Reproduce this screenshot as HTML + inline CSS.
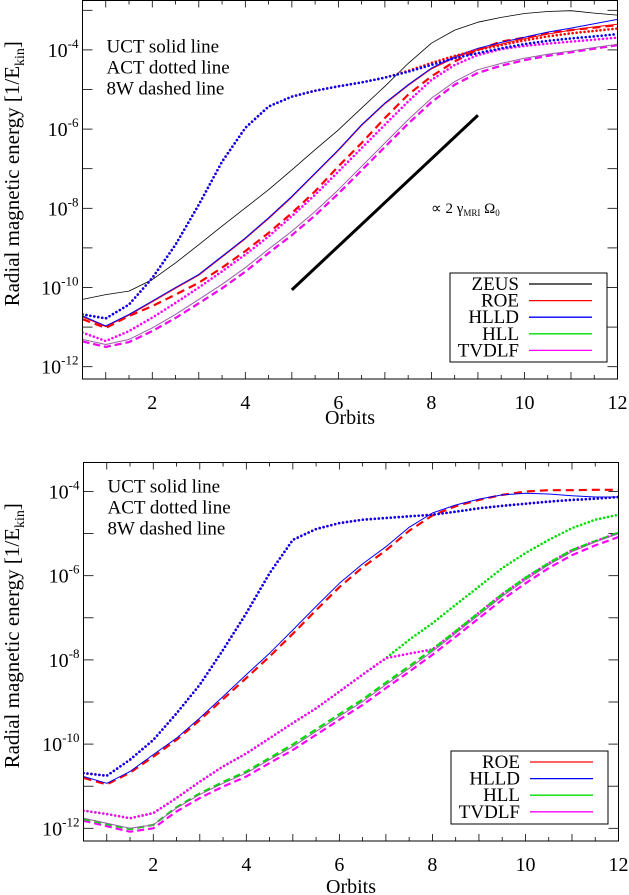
<!DOCTYPE html>
<html><head><meta charset="utf-8">
<style>
html,body{margin:0;padding:0;background:#fff;}
svg{display:block;font-family:"Liberation Serif",serif;}
</style></head>
<body>
<svg id="fig" width="629" height="895" viewBox="0 0 629 895" xmlns="http://www.w3.org/2000/svg"></svg>
<script>
// ---- data (log10 of radial magnetic energy), sampled every 0.5 orbits ----
const orbits = [0.5,1,1.5,2,2.5,3,3.5,4,4.5,5,5.5,6,6.5,7,7.5,8,8.5,9,9.5,10,10.5,11,11.5,12];
const yTickExps = [-12,-10,-8,-6,-4];
const xTickLabels = [2,4,6,8,10,12];

// top panel
const topZeus = [-10.3,-10.18,-10.09,-9.8,-9.38,-8.92,-8.45,-7.99,-7.53,-7.03,-6.52,-6.02,-5.47,-4.92,-4.34,-3.83,-3.5,-3.3,-3.18,-3.08,-3.03,-3.01,-3.07,-3.12];
const topHlldSolid = [-10.72,-10.97,-10.68,-10.34,-10.0,-9.67,-9.21,-8.75,-8.24,-7.7,-7.11,-6.52,-5.89,-5.34,-4.88,-4.46,-4.17,-3.96,-3.81,-3.68,-3.55,-3.45,-3.34,-3.23];
const topRoeSolid = [-10.74,-10.99,-10.7,-10.36,-10.02,-9.69,-9.23,-8.77,-8.26,-7.72,-7.13,-6.54,-5.91,-5.36,-4.9,-4.48,-4.2,-3.99,-3.85,-3.72,-3.6,-3.5,-3.42,-3.35];
const topRoeDashed = [-10.8,-11.02,-10.72,-10.47,-10.18,-9.88,-9.5,-9.08,-8.62,-8.12,-7.57,-6.94,-6.35,-5.72,-5.13,-4.67,-4.29,-4.0,-3.79,-3.69,-3.58,-3.5,-3.44,-3.37];
const topActBlue = [-10.68,-10.78,-10.43,-9.76,-8.92,-7.91,-6.82,-5.97,-5.43,-5.18,-5.03,-4.92,-4.82,-4.7,-4.55,-4.38,-4.21,-4.08,-3.96,-3.85,-3.77,-3.71,-3.66,-3.6];
const topActRed = [-10.68,-10.78,-10.43,-9.76,-8.92,-7.91,-6.82,-5.97,-5.43,-5.18,-5.03,-4.92,-4.82,-4.7,-4.53,-4.33,-4.15,-4.0,-3.88,-3.76,-3.66,-3.58,-3.52,-3.46];
const topActMagenta = [-11.14,-11.35,-11.1,-10.76,-10.39,-10.0,-9.59,-9.17,-8.71,-8.2,-7.66,-7.07,-6.48,-5.89,-5.3,-4.76,-4.38,-4.13,-3.98,-3.9,-3.84,-3.79,-3.74,-3.69];
const topLowSolid = [-11.31,-11.44,-11.31,-11.02,-10.68,-10.3,-9.92,-9.5,-9.03,-8.58,-8.08,-7.53,-6.94,-6.35,-5.76,-5.22,-4.8,-4.5,-4.34,-4.21,-4.11,-4.03,-3.94,-3.86];
const topLowDashed = [-11.36,-11.5,-11.38,-11.1,-10.77,-10.4,-10.02,-9.6,-9.13,-8.68,-8.18,-7.63,-7.04,-6.45,-5.86,-5.32,-4.88,-4.58,-4.4,-4.26,-4.15,-4.06,-3.97,-3.88];
const slopeLineX = [5,9];
const slopeLineY = [-10.06,-5.65];

// bottom panel
const botHlldSolid = [-10.77,-10.93,-10.65,-10.25,-9.86,-9.38,-8.87,-8.35,-7.84,-7.29,-6.73,-6.18,-5.72,-5.31,-4.85,-4.51,-4.32,-4.18,-4.08,-4.04,-4.06,-4.1,-4.13,-4.13];
const botRoeDashed = [-10.8,-10.96,-10.68,-10.3,-9.9,-9.43,-8.93,-8.43,-7.92,-7.38,-6.82,-6.27,-5.8,-5.4,-4.93,-4.57,-4.35,-4.2,-4.08,-4.0,-3.97,-3.97,-3.96,-3.96];
const botActBlue = [-10.69,-10.75,-10.37,-9.9,-9.27,-8.59,-7.76,-6.89,-5.94,-5.15,-4.89,-4.75,-4.67,-4.63,-4.59,-4.55,-4.48,-4.4,-4.34,-4.29,-4.24,-4.2,-4.17,-4.13];
const botActMagenta = [-11.58,-11.66,-11.76,-11.64,-11.28,-10.89,-10.53,-10.22,-9.86,-9.5,-9.15,-8.75,-8.35,-7.96,-7.85,-7.75,-7.32,-6.88,-6.44,-6.05,-5.7,-5.39,-5.18,-4.98];
const botActGreen = [-11.58,-11.66,-11.76,-11.64,-11.28,-10.89,-10.53,-10.22,-9.86,-9.5,-9.15,-8.75,-8.35,-7.96,-7.52,-7.13,-6.69,-6.26,-5.82,-5.46,-5.15,-4.87,-4.67,-4.55];
const botLowSolid = [-11.76,-11.88,-12.0,-11.92,-11.52,-11.2,-10.93,-10.69,-10.37,-10.06,-9.7,-9.34,-8.99,-8.59,-8.2,-7.8,-7.37,-6.93,-6.49,-6.1,-5.74,-5.43,-5.2,-5.0];
const botGreenDashed = [-11.78,-11.9,-12.02,-11.92,-11.5,-11.17,-10.9,-10.65,-10.33,-10.01,-9.65,-9.29,-8.94,-8.54,-8.15,-7.75,-7.32,-6.88,-6.44,-6.05,-5.7,-5.39,-5.18,-4.98];
const botMagentaDashed = [-11.82,-11.95,-12.08,-12.0,-11.6,-11.28,-11.01,-10.77,-10.45,-10.14,-9.78,-9.42,-9.07,-8.67,-8.28,-7.88,-7.45,-7.01,-6.57,-6.18,-5.82,-5.51,-5.28,-5.08];

const NS = "http://www.w3.org/2000/svg";
const svg = document.getElementById('fig');
function mk(tag, attrs, parent){ const e=document.createElementNS(NS,tag); for(const k in attrs) e.setAttribute(k,attrs[k]); (parent||svg).appendChild(e); return e; }

function panel(cfg){
  const g = mk('g',{});
  
  
  const L=cfg.left,R=cfg.right,T=cfg.top,B=cfg.bottom;
  const xs = v => L + (v-0.5)/(11.5)*(R-L);
  const ys = v => cfg.y0 - (v - (-12))*cfg.pxDec;
  const cid = cfg.name+'-clip';
  const defs = mk('defs',{},g); const cp = mk('clipPath',{id:cid},defs); mk('rect',{x:L,y:T,width:R-L,height:B-T},cp);
  for(let v=1; v<=12; v+=0.5){
    const x=xs(v), len = (v%1===0)?7:4;
    mk('line',{x1:x,y1:B,x2:x,y2:B-len,stroke:'#000','stroke-width':0.8},g);
    mk('line',{x1:x,y1:T,x2:x,y2:T+len,stroke:'#000','stroke-width':0.8},g);
  }
  for(let e=-13;e<=-2;e++){
    const y=ys(e); if(y<T||y>B) continue;
    mk('line',{x1:L,y1:y,x2:L+10,y2:y,stroke:'#000','stroke-width':0.8},g);
    mk('line',{x1:R,y1:y,x2:R-10,y2:y,stroke:'#000','stroke-width':0.8},g);
  }
  yTickExps.forEach(e=>{
    const t = mk('text',{x:L-4,y:ys(e)+7,'text-anchor':'end','font-size':20},g);
    
    
    t.appendChild(document.createTextNode('10'));
    const s = mk('tspan',{dy:-9,'font-size':13},t); s.textContent = String(e);
  });
  xTickLabels.forEach(v=>{
    const t = mk('text',{x:xs(v),y:B+30,'text-anchor':'middle','font-size':20},g);
    
    
    t.textContent=v;
  });
  const xt = mk('text',{x:(L+R)/2,y:cfg.xTitleY,'text-anchor':'middle','font-size':20},g);
  
  
  xt.textContent='Orbits';
  const yt = mk('text',{x:0,y:0,'text-anchor':'middle','font-size':21,transform:`translate(19,${(T+B)/2-16}) rotate(-90)`},g);
  
  
  yt.appendChild(document.createTextNode('Radial magnetic energy [1/E'));
  const sb=mk('tspan',{dy:5,'font-size':14},yt); sb.textContent='kin';
  const sc=mk('tspan',{dy:-5},yt); sc.textContent=']';
  ['UCT solid line','ACT dotted line','8W dashed line'].forEach((s,i)=>{
    const t=mk('text',{x:L+24,y:T+cfg.noteY+i*21,'font-size':19},g);
    
    
    t.textContent=s;
  });
  const sg = mk('g',{'clip-path':`url(#${cid})`,fill:'none','stroke-linejoin':'round'},g);
  cfg.series.forEach(s=>{
    const d = orbits.map((o,i)=>(i?'L':'M')+xs(o).toFixed(1)+','+ys(s.data[i]).toFixed(1)).join(' ');
    const dotted = s.dash==='dot';
    const p = mk('path',{d,stroke:s.color,'stroke-width':s.w,'stroke-dasharray':dotted?'0 4':(s.dash||'none'),'stroke-linecap':dotted?'round':'butt'},sg);
    
    
  });
  if(cfg.slope){
    const p = mk('line',{x1:xs(slopeLineX[0]),y1:ys(slopeLineY[0]),x2:xs(slopeLineX[1]),y2:ys(slopeLineY[1]),stroke:'#000','stroke-width':3},g);
    
    
    const t = mk('text',{x:431,y:213,'font-size':15},g);
    
    
    t.appendChild(document.createTextNode('\u221D 2 \u03B3'));
    const a=mk('tspan',{dy:3,'font-size':9},t); a.textContent='MRI';
    const b=mk('tspan',{dy:-3},t); b.textContent=' \u03A9';
    const c=mk('tspan',{dy:3,'font-size':9},t); c.textContent='0';
  }
  const lg = mk('g',{},g);
  
  
  const lb=cfg.legend;
  mk('rect',{x:lb.x,y:lb.y,width:lb.w,height:lb.h,fill:'#fff',stroke:'#000','stroke-width':1},lg);
  lb.items.forEach((it,i)=>{
    const y = lb.y+11+i*lb.step;
    const e = mk('g',{},lg);
    
    
    const t=mk('text',{x:lb.x+69,y:y+6,'text-anchor':'end','font-size':19},e); t.textContent=it[0];
    mk('line',{x1:lb.x+79,y1:y,x2:lb.x+142,y2:y,stroke:it[1],'stroke-width':1.3},e);
  });
  mk('rect',{x:L,y:T,width:R-L,height:B-T,fill:'none',stroke:'#000','stroke-width':1},g);
}

const RED='#ff0000', BLUE='#0000ff', GREEN='#00dd00', MAG='#ff00ff', PURP='#9a5fa8';
panel({name:'top-panel',left:82.5,right:617.5,top:0.5,bottom:379,y0:366.7,pxDec:39.6,xTitleY:424,noteY:52,slope:true,
  legend:{x:450,y:273,w:157,h:89,step:16.6,items:[['ZEUS','#000'],['ROE',RED],['HLLD',BLUE],['HLL',GREEN],['TVDLF',MAG]]},
  series:[
    {name:'zeus-solid',data:topZeus,color:'#000',w:0.8},
    {name:'tvdlf-dashed',data:topLowDashed,color:GREEN,w:2.2,dash:'7 4'},
    {name:'hll-dashed',data:topLowDashed,color:MAG,w:2.2,dash:'7 4'},
    {name:'hll-tvdlf-solid',data:topLowSolid,color:PURP,w:1},
    {name:'tvdlf-dotted',data:topActMagenta,color:MAG,w:2.6,dash:'dot'},
    {name:'roe-dashed',data:topRoeDashed,color:RED,w:2.2,dash:'8 5'},
    {name:'roe-solid',data:topRoeSolid,color:RED,w:1},
    {name:'hlld-solid',data:topHlldSolid,color:BLUE,w:1},
    {name:'roe-dotted',data:topActRed,color:RED,w:2.6,dash:'dot'},
    {name:'hlld-dotted',data:topActBlue,color:BLUE,w:2.6,dash:'dot'}
  ]});
panel({name:'bottom-panel',left:83.5,right:618.5,top:462.5,bottom:841,y0:828.3,pxDec:42.1,xTitleY:893,noteY:30,slope:false,
  legend:{x:451,y:751,w:157,h:73,step:16.6,items:[['ROE',RED],['HLLD',BLUE],['HLL',GREEN],['TVDLF',MAG]]},
  series:[
    {name:'hll-dotted',data:botActGreen,color:GREEN,w:2.6,dash:'dot'},
    {name:'tvdlf-dotted',data:botActMagenta,color:MAG,w:2.6,dash:'dot'},
    {name:'tvdlf-dashed',data:botMagentaDashed,color:MAG,w:2.2,dash:'7 4'},
    {name:'hll-dashed',data:botGreenDashed,color:GREEN,w:2.2,dash:'7 4'},
    {name:'hll-tvdlf-solid',data:botLowSolid,color:PURP,w:1},
    {name:'roe-dashed',data:botRoeDashed,color:RED,w:2.2,dash:'8 5'},
    {name:'hlld-solid',data:botHlldSolid,color:BLUE,w:1},
    {name:'roe-dotted',data:botActBlue,color:RED,w:2.6,dash:'dot'},
    {name:'hlld-dotted',data:botActBlue,color:BLUE,w:2.6,dash:'dot'}
  ]});
</script>
</body></html>
